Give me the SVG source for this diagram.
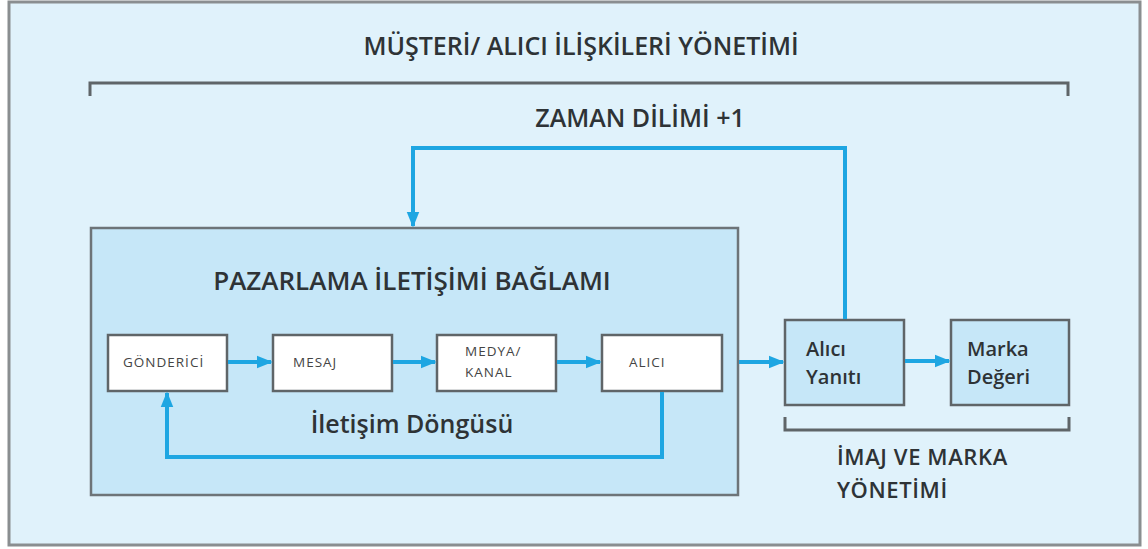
<svg xmlns="http://www.w3.org/2000/svg" width="1148" height="549" viewBox="0 0 1148 549">
<defs>
<marker id="ah" viewBox="0 0 10 10" refX="9" refY="5" markerWidth="4" markerHeight="4" markerUnits="strokeWidth" orient="auto">
<path d="M0,1 L10,5 L0,9 Z" fill="#1ea6e2"/>
</marker>
<style>
text{font-family:"Open Sans","Liberation Sans",sans-serif;fill:#2e3336}
.big{font-size:25px;font-weight:600}
.sm{font-size:13.5px;fill:#444;letter-spacing:1px}
.md{font-size:20px;font-weight:600}
.lb{font-size:22px;font-weight:600;letter-spacing:0.6px}
.con{fill:none;stroke:#1ea6e2;stroke-width:4}
.box{fill:#fff;stroke:#5f6568;stroke-width:2.5}
.bbox{fill:#c6e7f8;stroke:#5f6568;stroke-width:2.5}
.br{fill:none;stroke:#5f6568;stroke-width:3}
</style>
</defs>
<rect width="1148" height="549" fill="#ffffff"/>
<g id="outer">
<rect x="9" y="2" width="1131" height="543" fill="#e0f2fb" stroke="#8a8e90" stroke-width="3"/>
<text class="big" x="581" y="55" text-anchor="middle">MÜŞTERİ/ ALICI İLİŞKİLERİ YÖNETİMİ</text>
<path class="br" d="M90,96 V83 H1068 V96"/>
<text class="big" x="640" y="127" text-anchor="middle">ZAMAN DİLİMİ +1</text>
</g>
<g id="context">
<rect x="91" y="228" width="647" height="267" fill="#c6e7f8" stroke="#6d7478" stroke-width="2.5"/>
<text class="big" x="412" y="290" text-anchor="middle" style="font-size:26px">PAZARLAMA İLETİŞİMİ BAĞLAMI</text>
<text class="big" x="412" y="433" text-anchor="middle">İletişim Döngüsü</text>
</g>
<g id="gonderici">
<rect class="box" x="108" y="335" width="119" height="56"/>
<text class="sm" x="123" y="367">GÖNDERİCİ</text>
</g>
<g id="mesaj">
<rect class="box" x="273" y="335" width="119" height="56"/>
<text class="sm" x="293" y="367">MESAJ</text>
</g>
<g id="medya">
<rect class="box" x="437" y="335" width="119" height="56"/>
<text class="sm" x="465" y="356">MEDYA/</text>
<text class="sm" x="465" y="377">KANAL</text>
</g>
<g id="alici">
<rect class="box" x="602" y="335" width="120" height="56"/>
<text class="sm" x="629" y="367">ALICI</text>
</g>
<g id="aliciyaniti">
<rect class="bbox" x="785" y="320" width="119" height="85"/>
<text class="md" x="806" y="356">Alıcı</text>
<text class="md" x="806" y="384">Yanıtı</text>
</g>
<g id="markadegeri">
<rect class="bbox" x="951" y="320" width="118" height="85"/>
<text class="md" x="967" y="356">Marka</text>
<text class="md" x="967" y="384">Değeri</text>
</g>
<g id="imaj">
<path class="br" d="M785,417 V430 H1069 V417"/>
<text class="lb" x="837" y="465">İMAJ VE MARKA</text>
<text class="lb" x="837" y="498">YÖNETİMİ</text>
</g>
<g id="connectors">
<path class="con" d="M228,362 H271" marker-end="url(#ah)"/>
<path class="con" d="M393,362 H435" marker-end="url(#ah)"/>
<path class="con" d="M557,362 H600" marker-end="url(#ah)"/>
<path class="con" d="M739,362 H783" marker-end="url(#ah)"/>
<path class="con" d="M905,361 H949" marker-end="url(#ah)"/>
<path class="con" d="M662,392 V457 H167 V393" marker-end="url(#ah)"/>
<path class="con" d="M845,319 V148 H413 V226" marker-end="url(#ah)"/>
</g>
</svg>
